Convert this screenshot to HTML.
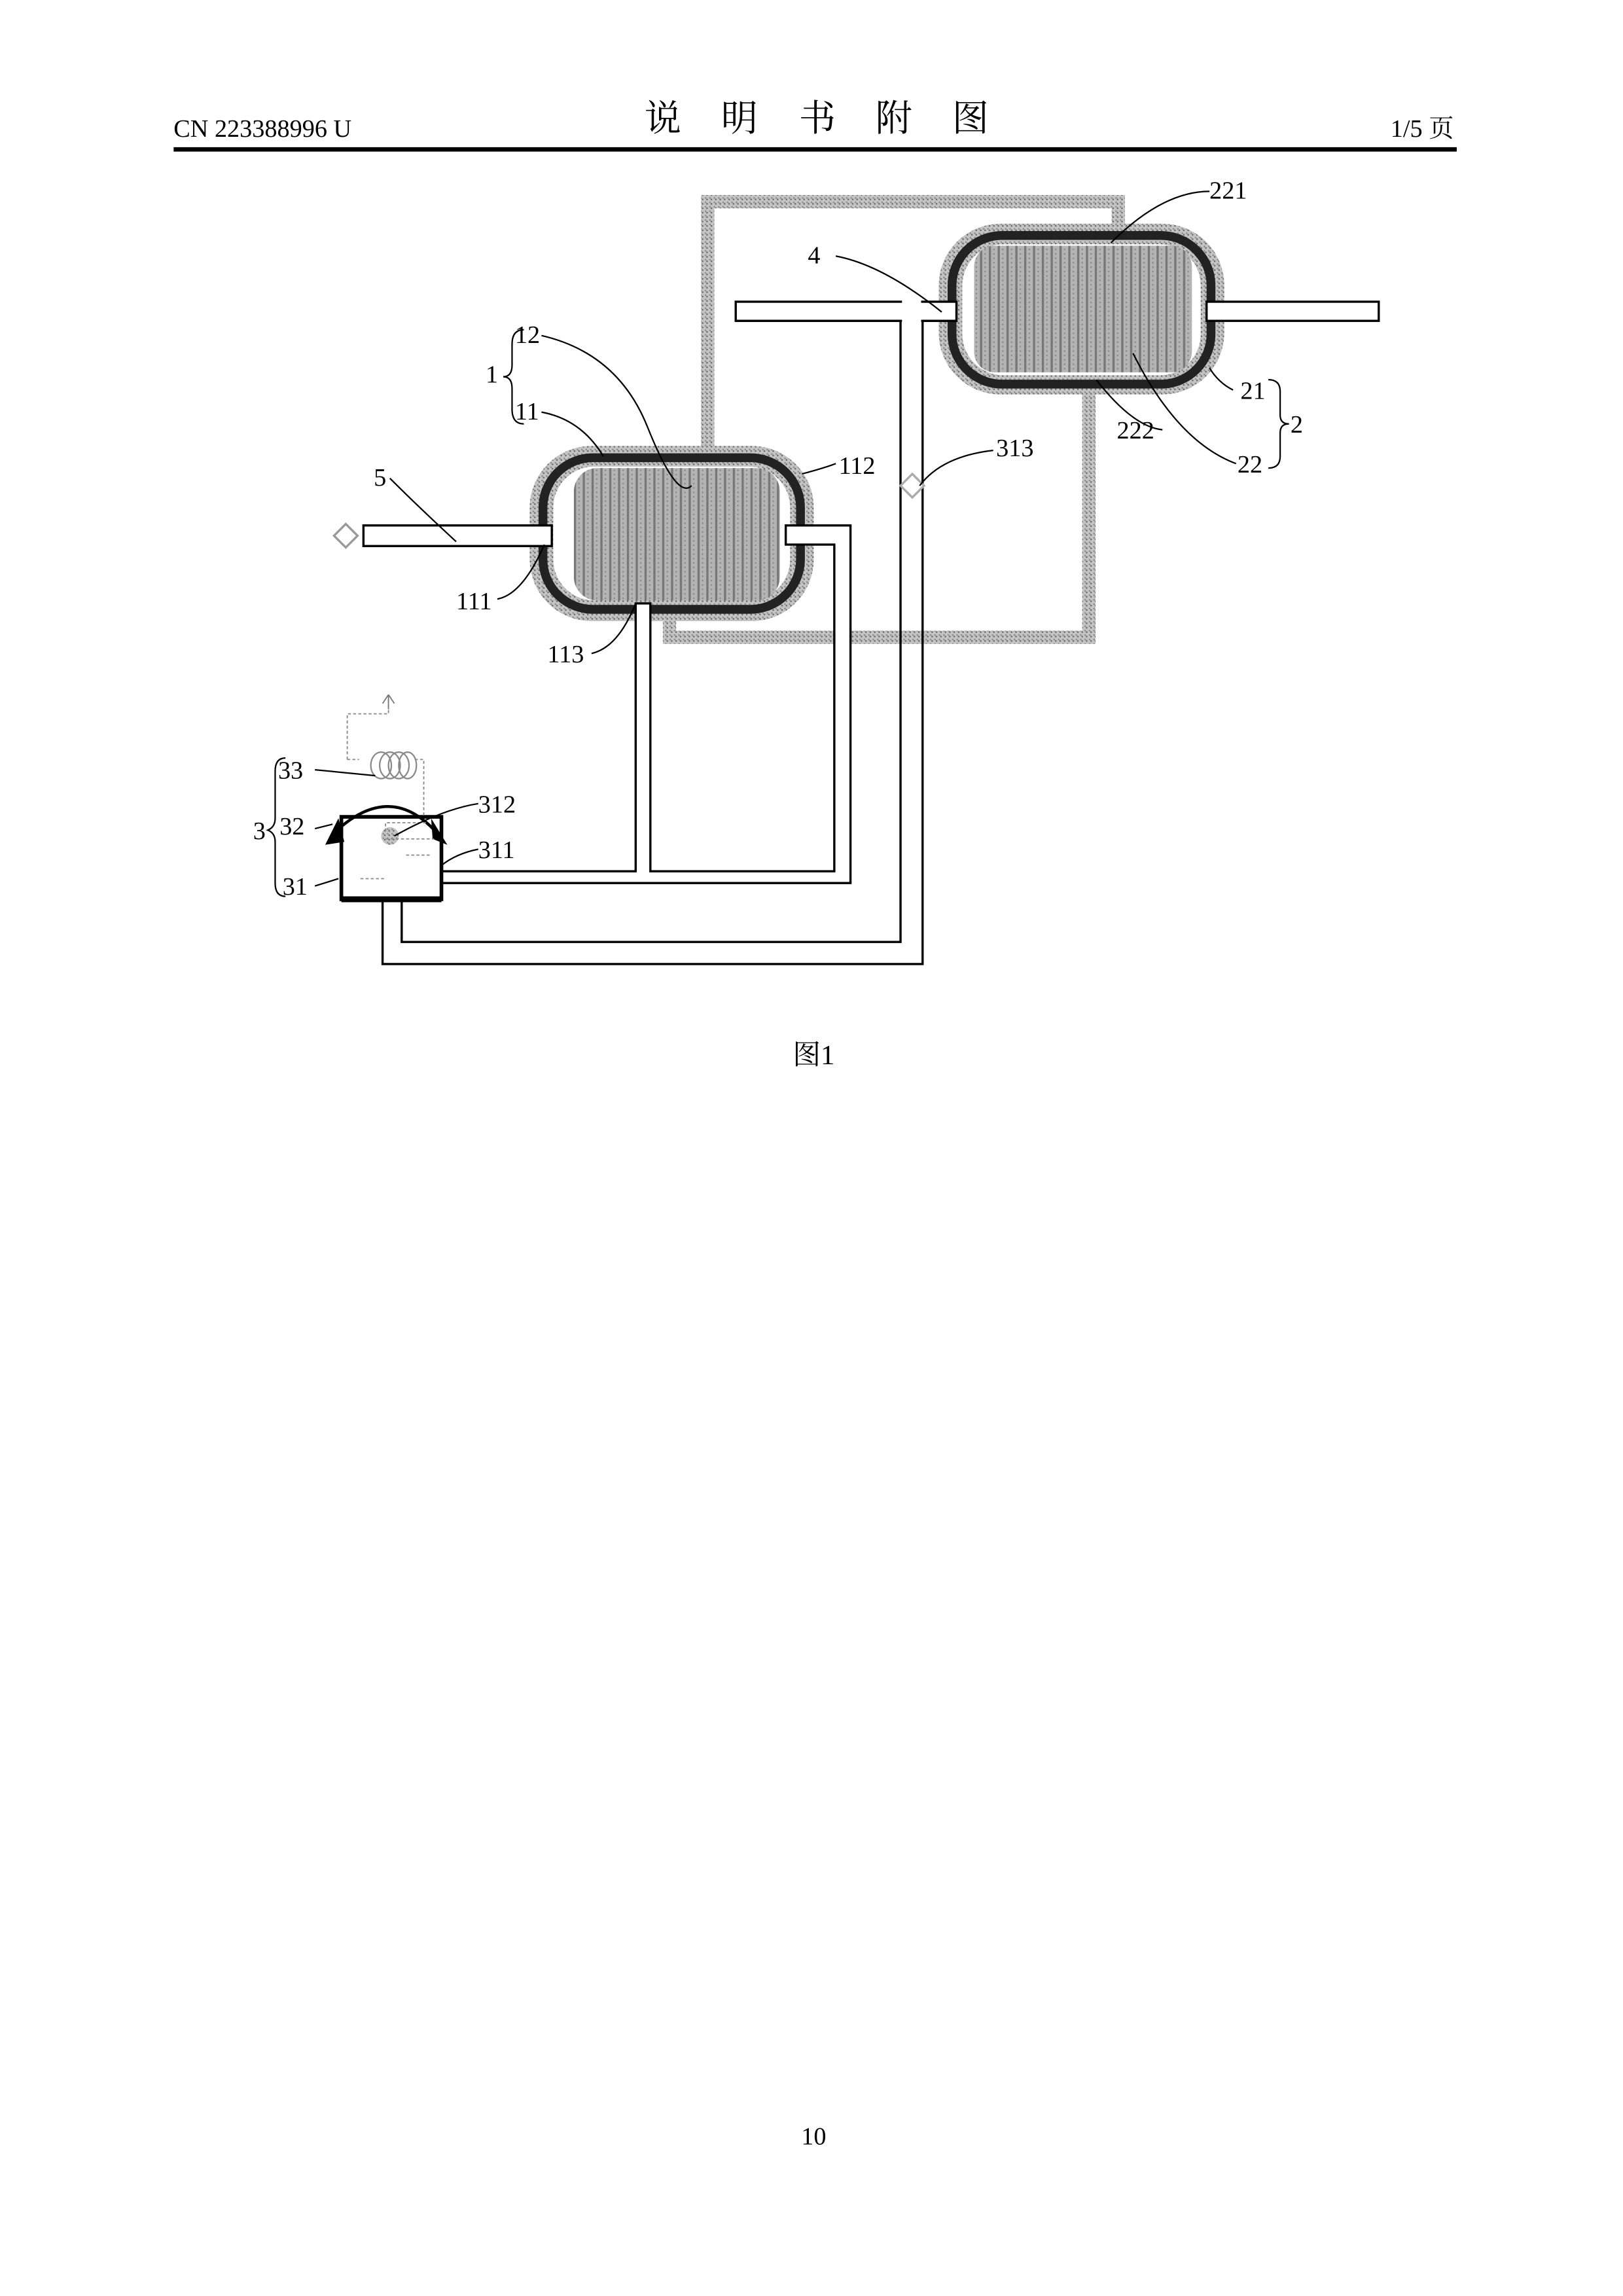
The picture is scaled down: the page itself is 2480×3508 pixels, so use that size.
<!DOCTYPE html>
<html><head><meta charset="utf-8"><style>
html,body{margin:0;padding:0;background:#fff;}
svg{display:block;}
text{font-family:"Liberation Serif","Noto Serif CJK SC",serif;fill:#000;}
</style></head><body>
<svg width="2480" height="3508" viewBox="0 0 1103 1560" preserveAspectRatio="none" xmlns="http://www.w3.org/2000/svg">
<defs>
<pattern id="st" width="3" height="3" patternUnits="userSpaceOnUse">
<rect width="3" height="3" fill="#c4c4c4"/><rect width="1" height="1" fill="#666"/><rect x="2" y="2" width="1" height="1" fill="#888"/>
</pattern>
<pattern id="core" width="6" height="3" patternUnits="userSpaceOnUse">
<rect width="6" height="3" fill="#b4b4b4"/><rect x="0" width="1.5" height="3" fill="#777"/><rect x="3" y="1" width="1" height="1" fill="#888"/>
</pattern>
</defs>
<!-- header -->
<text x="118" y="93" font-size="17">CN 223388996 U</text>
<text x="438" y="89" font-size="25" font-family="Noto Sans CJK SC, sans-serif">说</text>
<text x="490" y="89" font-size="25" font-family="Noto Sans CJK SC, sans-serif">明</text>
<text x="543" y="89" font-size="25" font-family="Noto Sans CJK SC, sans-serif">书</text>
<text x="595" y="89" font-size="25" font-family="Noto Sans CJK SC, sans-serif">附</text>
<text x="647" y="89" font-size="25" font-family="Noto Sans CJK SC, sans-serif">图</text>
<text x="988" y="93" font-size="17" text-anchor="end">1/5 页</text>
<rect x="118" y="100" width="872" height="3" fill="#000"/>

<!-- gray pipes -->
<path d="M481 318 V137 H760 V162" fill="none" stroke="url(#st)" stroke-width="9"/>
<path d="M455 406 V433 H740 V262" fill="none" stroke="url(#st)" stroke-width="9"/>

<!-- vessel 1 -->
<rect x="360" y="303" width="193" height="119" rx="42" fill="url(#st)"/>
<rect x="369" y="311" width="175" height="103" rx="34" fill="none" stroke="#222" stroke-width="6"/>
<rect x="376" y="317" width="161" height="91" rx="28" fill="#fff"/>
<rect x="390" y="318" width="140" height="90" rx="16" fill="url(#core)"/>
<!-- vessel 2 -->
<rect x="638" y="152" width="194" height="116" rx="42" fill="url(#st)"/>
<rect x="647" y="160" width="176" height="101" rx="34" fill="none" stroke="#222" stroke-width="6"/>
<rect x="654" y="166" width="162" height="89" rx="28" fill="#fff"/>
<rect x="662" y="167" width="148" height="86" rx="14" fill="url(#core)"/>

<!-- white pipes with outlines -->
<g fill="#fff" stroke="#000" stroke-width="1.5">
<rect x="247" y="357" width="128" height="14"/>
<path d="M534 357 H578 V600 H300 V592 H432 V410 H442 V592 H567 V370 H534 Z"/>
<rect x="500" y="205" width="150" height="13"/>
<rect x="820" y="205" width="117" height="13"/>
<path d="M612 218 V640 H273 V612 H260 V655 H627 V218" fill="none"/>
</g>
<rect x="613" y="204" width="13" height="16" fill="#fff"/>
<line x1="627" y1="218" x2="650" y2="218" stroke="#000" stroke-width="1.5"/>
<line x1="500" y1="218" x2="612" y2="218" stroke="#000" stroke-width="1.5"/>
<rect x="433" y="591" width="8" height="3" fill="#fff"/>

<!-- diamonds -->
<path d="M235 356 L243 364 L235 372 L227 364 Z" fill="#fff" stroke="#999" stroke-width="1.5"/>
<path d="M620 322 L628 330 L620 338 L612 330 Z" fill="#fff" stroke="#aaa" stroke-width="1.5"/>

<!-- tank 31 -->
<rect x="232" y="555" width="68" height="56" fill="#fff" stroke="#000" stroke-width="2.5"/>
<line x1="232" y1="611" x2="300" y2="611" stroke="#000" stroke-width="4"/>
<path d="M227 566 Q265 530 297 566" fill="none" stroke="#000" stroke-width="2"/>
<path d="M221 574 L230 556 L234 572 Z" fill="#000"/>
<path d="M293 556 L304 574 L294 570 Z" fill="#000"/>
<circle cx="265" cy="568" r="6" fill="url(#st)"/>
<g fill="none" stroke="#888" stroke-width="0.8" stroke-dasharray="2,1.5">
<line x1="262" y1="570" x2="295" y2="570"/><line x1="276" y1="581" x2="292" y2="581"/><line x1="245" y1="597" x2="262" y2="597"/>
<path d="M262 565 V559 H290"/>
<path d="M236 516 V485 H264 V472"/><path d="M236 516 H244"/><path d="M282 516 H288 V555"/>
</g>
<path d="M264 472 L260 478 M264 472 L268 478 M264 472 V482" stroke="#777" stroke-width="0.8" fill="none"/>
<g fill="none" stroke="#888" stroke-width="1">
<ellipse cx="259" cy="520" rx="7" ry="9"/><ellipse cx="265" cy="520" rx="7" ry="9"/><ellipse cx="271" cy="520" rx="7" ry="9"/><ellipse cx="277" cy="520" rx="6" ry="9"/>
</g>

<!-- leaders -->
<g fill="none" stroke="#000" stroke-width="1">
<path d="M368 228 Q420 240 440 290 T470 330"/>
<path d="M368 280 Q395 285 410 310"/>
<path d="M265 325 Q285 345 310 368"/>
<path d="M545 322 Q560 318 568 315"/>
<path d="M338 407 Q355 404 370 370"/>
<path d="M402 444 Q420 440 432 410"/>
<path d="M568 174 Q600 180 640 212"/>
<path d="M822 130 Q790 130 755 165"/>
<path d="M838 265 Q828 260 822 250"/>
<path d="M790 292 Q770 290 745 258"/>
<path d="M840 315 Q800 300 770 240"/>
<path d="M675 306 Q640 310 625 330"/>
<path d="M214 523 L255 527"/>
<path d="M214 563 L226 560"/>
<path d="M325 546 Q300 550 268 568"/>
<path d="M325 577 Q310 580 300 588"/>
<path d="M214 602 L230 597"/>
</g>
<g font-size="17">
<text x="350" y="233">12</text><text x="350" y="285">11</text><text x="330" y="260">1</text>
<text x="254" y="330">5</text><text x="570" y="322">112</text>
<text x="310" y="414">111</text><text x="372" y="450">113</text>
<text x="549" y="179">4</text><text x="822" y="135">221</text>
<text x="843" y="271">21</text><text x="759" y="298">222</text><text x="841" y="321">22</text>
<text x="877" y="294">2</text><text x="677" y="310">313</text>
<text x="189" y="529">33</text><text x="190" y="567">32</text><text x="172" y="570">3</text>
<text x="192" y="608">31</text><text x="325" y="552">312</text><text x="325" y="583">311</text>
</g>
<g fill="none" stroke="#000" stroke-width="1">
<path d="M356 224 Q348 224 348 234 V248 Q348 256 342 256 Q348 256 348 264 V278 Q348 288 356 288"/>
<path d="M862 258 Q870 258 870 266 V282 Q870 288 876 288 Q870 288 870 294 V310 Q870 318 862 318"/>
<path d="M194 515 Q187 515 187 524 V556 Q187 562 182 564 Q187 566 187 572 V600 Q187 609 194 609"/>
</g>
<text x="553" y="723" font-size="19" text-anchor="middle">图1</text>
<text x="553" y="1457" font-size="17" text-anchor="middle">10</text>
</svg>
</body></html>
